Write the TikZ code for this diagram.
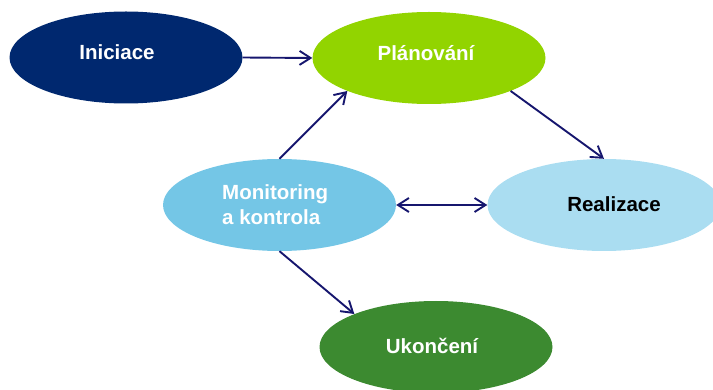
\documentclass[tikz,border=0pt]{standalone}
\usepackage{fontspec}
\setmainfont{Liberation Sans}
\usetikzlibrary{shapes.geometric,arrows.meta}
\definecolor{cIni}{HTML}{00286F}
\definecolor{cPlan}{HTML}{92D400}
\definecolor{cMon}{HTML}{74C6E6}
\definecolor{cReal}{HTML}{AADDF1}
\definecolor{cUko}{HTML}{3C8A30}
\definecolor{cArrow}{HTML}{16166E}
\begin{document}
\begin{tikzpicture}[x=1pt,y=-1pt,
  phase/.style={ellipse, draw=none, inner sep=0pt, minimum width=233pt, minimum height=92pt},
  lbl/.style={font=\fontsize{20.5}{25}\selectfont\bfseries, text=white, inner sep=0pt},
  barb/.tip={Straight Barb[length=11pt,width=14pt,line width=1.9pt]},
  flow/.style={draw=cArrow, line width=1.9pt, -barb},
  flowboth/.style={draw=cArrow, line width=1.9pt, barb-barb}]
\useasboundingbox (0,0) rectangle (713,390);

% phases
\node[phase, fill=cIni]  (ini)  at (126,57.5) {};
\node[phase, fill=cPlan] (plan) at (429,58) {};
\node[phase, fill=cMon]  (mon)  at (279.5,205) {};
\node[phase, fill=cReal] (real) at (604,205) {};
\node[phase, fill=cUko]  (uko)  at (436,347) {};

% labels
\node[lbl, anchor=base] (ini-t)  at (117,60) {Iniciace};
\node[lbl, anchor=base] (plan-t) at (426,61) {Plánování};
\node[lbl, anchor=base west, align=left] (mon-t) at (222,225) {Monitoring\\a kontrola};
\node[lbl, anchor=base, text=black] (real-t) at (614,212) {Realizace};
\node[lbl, anchor=base] (uko-t)  at (432,354) {Ukončení};

% transitions
\draw[flow] (ini.east) -- (plan.west);
\draw[flow] (mon.north) -- (plan.202);
\draw[flow] (plan.-22) -- (real.north);
\draw[flowboth] (mon.east) -- (real.west);
\draw[flow] (mon.south) -- (uko.158);
\end{tikzpicture}
\end{document}
